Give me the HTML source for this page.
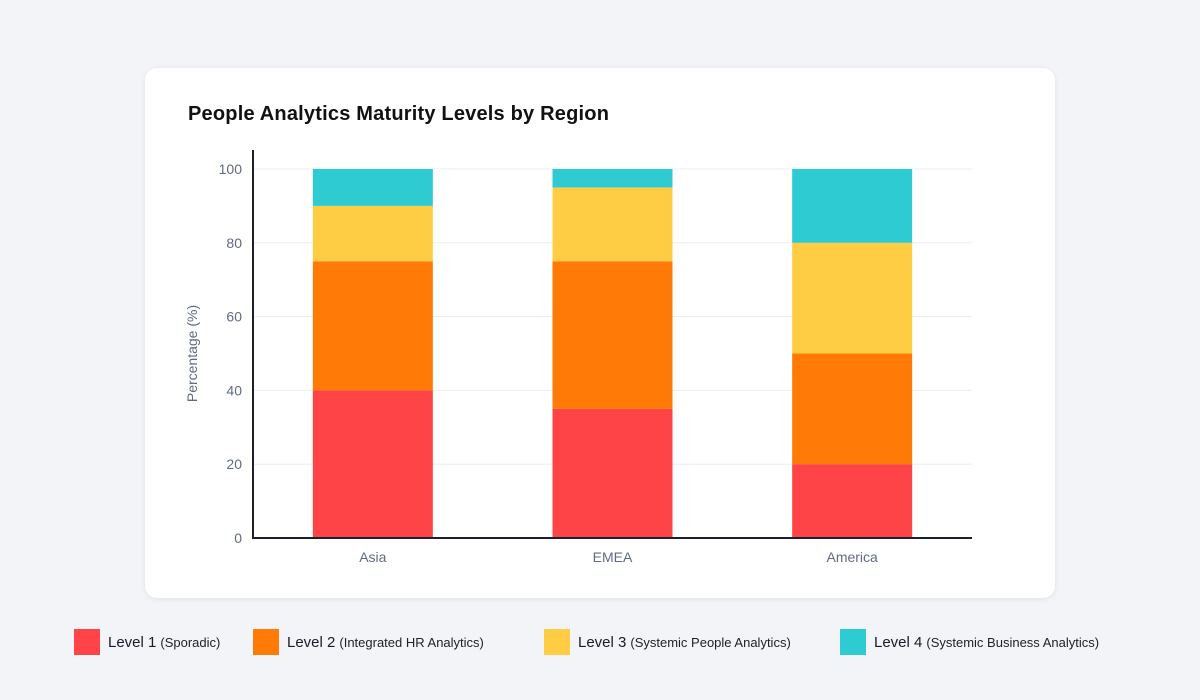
<!DOCTYPE html>
<html><head><meta charset="utf-8"><style>
body{margin:0;width:1200px;height:700px;background:#f2f4f8;font-family:"Liberation Sans",sans-serif;position:relative;overflow:hidden}
.card{position:absolute;left:145px;top:68px;width:910px;height:530px;background:#fff;border-radius:12px;box-shadow:0 1px 6px rgba(0,0,0,0.08)}
.title{position:absolute;left:188px;top:103px;font-size:20px;font-weight:bold;color:#111;letter-spacing:0.2px}
.legend{position:absolute;top:628px;left:0;width:1200px;height:28px}
.li{position:absolute;top:0;display:flex;align-items:center;font-size:15px;color:#1a1a2a;height:28px}
.sw{width:26px;height:26px;margin-right:8px}
.li small{font-size:13px;margin-left:4px;color:#222}
</style></head><body>
<div class="card"></div>
<div class="title">People Analytics Maturity Levels by Region</div>
<svg id="chart" width="1200" height="700" style="position:absolute;left:0;top:0"></svg>
<div class="legend">
<div class="li" style="left:74px"><div class="sw" style="background:#ff4447"></div>Level 1<small>(Sporadic)</small></div>
<div class="li" style="left:253px"><div class="sw" style="background:#ff7a07"></div>Level 2<small>(Integrated HR Analytics)</small></div>
<div class="li" style="left:544px"><div class="sw" style="background:#ffcd44"></div>Level 3<small>(Systemic People Analytics)</small></div>
<div class="li" style="left:840px"><div class="sw" style="background:#2ecbd2"></div>Level 4<small>(Systemic Business Analytics)</small></div>
</div>
<script>
const categories=["Asia","EMEA","America"];
const level1=[40,35,20];
const level2=[35,40,30];
const level3=[15,20,30];
const level4=[10,5,20];
const yTicks=[0,20,40,60,80,100];
const series=[level1,level2,level3,level4];
const colors=["#ff4447","#ff7a07","#ffcd44","#2ecbd2"];
const names=["level-1","level-2","level-3","level-4"];
const svg=document.getElementById('chart');
const NS="http://www.w3.org/2000/svg";
const x0=253,x1=972,y0=538,y100=169;
const y=v=>y0-(y0-y100)*v/100;
const band=(x1-x0)/categories.length;
const xc=i=>x0+band*(i+0.5);
function mk(t,a){const e=document.createElementNS(NS,t);for(const k in a)e.setAttribute(k,a[k]);svg.appendChild(e);return e;}
yTicks.forEach(t=>{
 if(t>0){const g=mk('line',{x1:x0,x2:x1,y1:y(t),y2:y(t),stroke:'#ebedf0','stroke-width':1});
 
 }
 const l=mk('text',{x:242,y:y(t)+5,'text-anchor':'end','font-size':14,fill:'#5f6b80','font-family':'Liberation Sans'});
 l.textContent=t;
 
 
});
categories.forEach((c,i)=>{
 let acc=0;
 series.forEach((s,j)=>{
  const r=mk('rect',{x:xc(i)-60,width:120,y:y(acc+s[i]),height:y(acc)-y(acc+s[i]),fill:colors[j]});
  
  
  acc+=s[i];
 });
 const l=mk('text',{x:xc(i),y:562,'text-anchor':'middle','font-size':14,fill:'#5f6b80','font-family':'Liberation Sans'});
 l.textContent=c;
 
 
});
const ya=mk('line',{x1:x0,x2:x0,y1:150,y2:y0+1,stroke:'#1d1f2e','stroke-width':2});


const xa=mk('line',{x1:x0-1,x2:x1,y1:y0,y2:y0,stroke:'#1d1f2e','stroke-width':2});


const yt=mk('text',{x:197,y:y(50),'text-anchor':'middle','font-size':14,fill:'#5f6b80','font-family':'Liberation Sans',transform:'rotate(-90 197 '+y(50)+')'});
yt.textContent='Percentage (%)';


</script>
</body></html>
